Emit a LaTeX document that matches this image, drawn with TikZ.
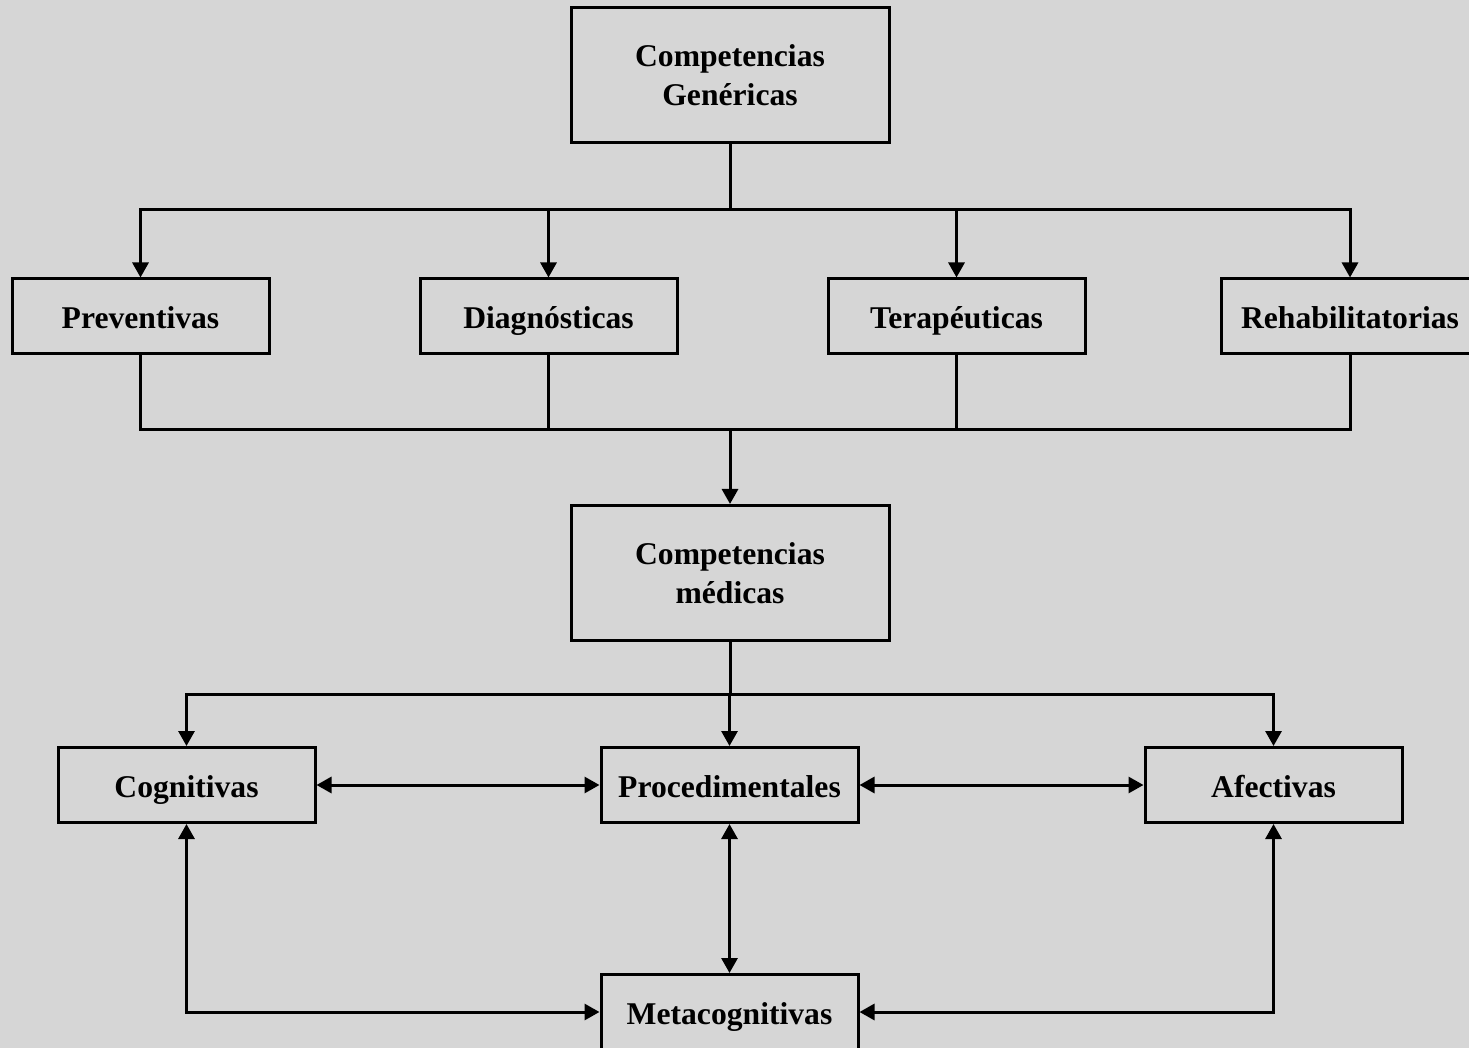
\documentclass[tikz,border=0pt]{standalone}
\usepackage{fontspec}
\setmainfont{Liberation Serif}
\usetikzlibrary{arrows.meta}
\definecolor{fondo}{RGB}{214,214,214}

\begin{document}
\begin{tikzpicture}[x=0.1mm,y=-0.1mm,
  every node/.style={font=\fontsize{9}{11}\selectfont\bfseries, align=center},
  marco/.style={draw=black, line width=0.3mm, inner sep=0pt},
  caja/.style={marco, minimum width=25.7mm, minimum height=7.5mm, text height=3.3mm, text depth=0.8mm},
  grande/.style={marco, minimum width=31.8mm, minimum height=13.5mm},
  linea/.style={line width=0.3mm},
  flecha/.style={linea, -{Triangle[length=1.5mm,width=1.6mm]}},
  doble/.style={linea, {Triangle[length=1.5mm,width=1.6mm]}-{Triangle[length=1.5mm,width=1.6mm]}}]
\useasboundingbox (0,0) rectangle (1469,1048);
\clip (0,0) rectangle (1469,1048);
\fill[fondo] (0,0) rectangle (1469,1048);

\node[grande] (gen) at (730,75) {Competencias\\Genéricas};
\node[caja] (prev) at (140.5,316.5) {Preventivas};
\node[caja] (diag) at (548.5,316.5) {Diagnósticas};
\node[caja] (tera) at (956.5,316.5) {Terapéuticas};
\node[caja] (reha) at (1350,316.5) {Rehabilitatorias};
\node[grande] (med) at (730,573) {Competencias\\médicas};
\node[caja] (cog) at (186.5,785) {Cognitivas};
\node[caja] (proc) at (729.5,785) {Procedimentales};
\node[caja] (afec) at (1273.5,785) {Afectivas};
\node[caja] (meta) at (729.5,1012) {Metacognitivas};

\coordinate (r1) at (730,210);
\coordinate (r2) at (730,430);
\coordinate (r3) at (730,694);

\draw[linea] (gen) -- (r1);
\foreach \n in {prev,diag,tera,reha}
  \draw[flecha] (r1) -| (\n.north);
\foreach \n in {prev,diag,tera,reha}
  \draw[linea] (\n.south) |- (r2);
\draw[flecha] (r2) -- (med.north);

\draw[linea] (med) -- (r3);
\foreach \n in {cog,proc,afec}
  \draw[flecha] (r3) -| (\n.north);
\draw[doble] (cog) -- (proc);
\draw[doble] (proc) -- (afec);
\draw[doble] (proc) -- (meta);
\draw[doble] (cog.south) |- (meta.west);
\draw[doble] (afec.south) |- (meta.east);
\end{tikzpicture}
\end{document}
